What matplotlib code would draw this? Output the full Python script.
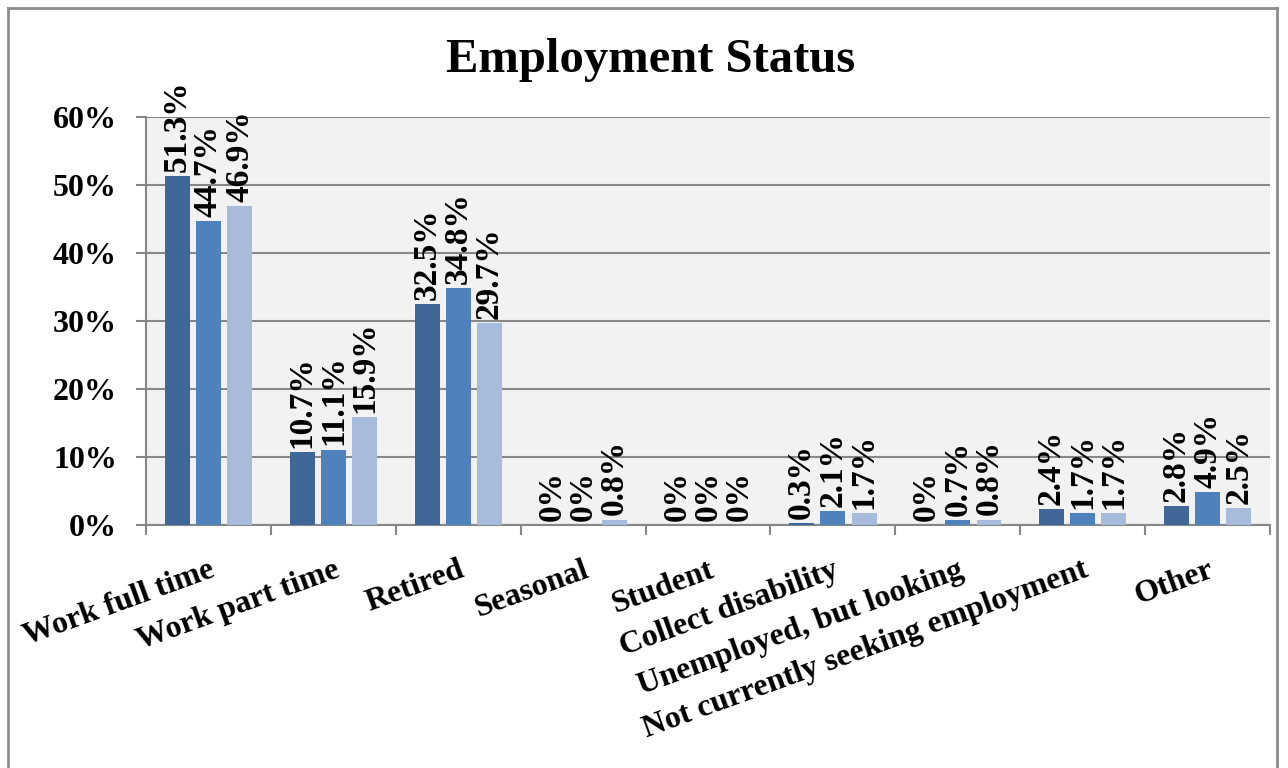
import matplotlib.pyplot as plt
import numpy as np
from matplotlib.lines import Line2D

# Dados do gráfico
categorias = ['Work full time', 'Work part time', 'Retired', 'Seasonal', 'Student',
              'Collect disability', 'Unemployed, but looking',
              'Not currently seeking employment', 'Other']
serie_1 = [51.3, 10.7, 32.5, 0, 0, 0.3, 0, 2.4, 2.8]
serie_2 = [44.7, 11.1, 34.8, 0, 0, 2.1, 0.7, 1.7, 4.9]
serie_3 = [46.9, 15.9, 29.7, 0.8, 0, 1.7, 0.8, 1.7, 2.5]
y_ticks = [0, 10, 20, 30, 40, 50, 60]

cores = ['#3f6899', '#4f81bd', '#a9bbdb']
fonte = 'Liberation Serif'

fig = plt.figure(figsize=(12.88, 7.68), dpi=100)
ax = fig.add_axes([0.1134, 0.3164, 0.8726, 0.5313])
ax.set_facecolor('#f2f2f2')

x = np.arange(len(categorias))
largura = 0.2
passo = 0.25
for i, (serie, cor) in enumerate(zip([serie_1, serie_2, serie_3], cores)):
    pos = x + (i - 1) * passo
    ax.bar(pos, serie, width=largura, color=cor, zorder=3)
    for xi, v in zip(pos, serie):
        txt = '0%' if v == 0 else f'{v:.1f}%'
        ax.annotate(txt, (xi, v), xytext=(0, 3), textcoords='offset points',
                    rotation=90, ha='center', va='bottom', fontsize=24,
                    fontweight='bold', family=fonte, zorder=4)

ax.set_xlim(-0.5, len(categorias) - 0.5)
ax.set_ylim(0, 60)
ax.set_yticks(y_ticks)
ax.set_yticklabels([f'{t}%' for t in y_ticks], fontsize=23, fontweight='bold', family=fonte)
ax.grid(axis='y', color='#878787', linewidth=1.5, zorder=1)

# ticks do eixo x entre as categorias
ax.set_xticks(x)
ax.set_xticklabels(categorias, rotation=20, ha='right', va='top', rotation_mode='anchor',
                   fontsize=23, fontweight='bold', family=fonte)
ax.set_xticks(np.arange(len(categorias) + 1) - 0.5, minor=True)
ax.tick_params(axis='x', which='major', length=0, pad=22)
ax.tick_params(axis='x', which='minor', length=7, width=1.5, color='#878787', direction='out')
ax.tick_params(axis='y', length=7, width=1.5, color='#878787', pad=14)

for lado in ['top', 'right']:
    ax.spines[lado].set_visible(False)
for lado in ['left', 'bottom']:
    ax.spines[lado].set_color('#878787')
    ax.spines[lado].set_linewidth(1.5)

fig.text(0.505, 0.922, 'Employment Status', ha='center', va='center',
         fontsize=35, fontweight='bold', family=fonte)

# borda externa do gráfico (cortada embaixo)
bx0, bx1, by1 = 8 / 1288, 1277 / 1288, 1 - 8 / 768
for xs, ys in [([bx0, bx0], [-0.1, by1]), ([bx0, bx1], [by1, by1]), ([bx1, bx1], [by1, -0.1])]:
    fig.add_artist(Line2D(xs, ys, transform=fig.transFigure, color='#8c8c8c', linewidth=2))

plt.savefig('out.png', dpi=100, facecolor='white')
